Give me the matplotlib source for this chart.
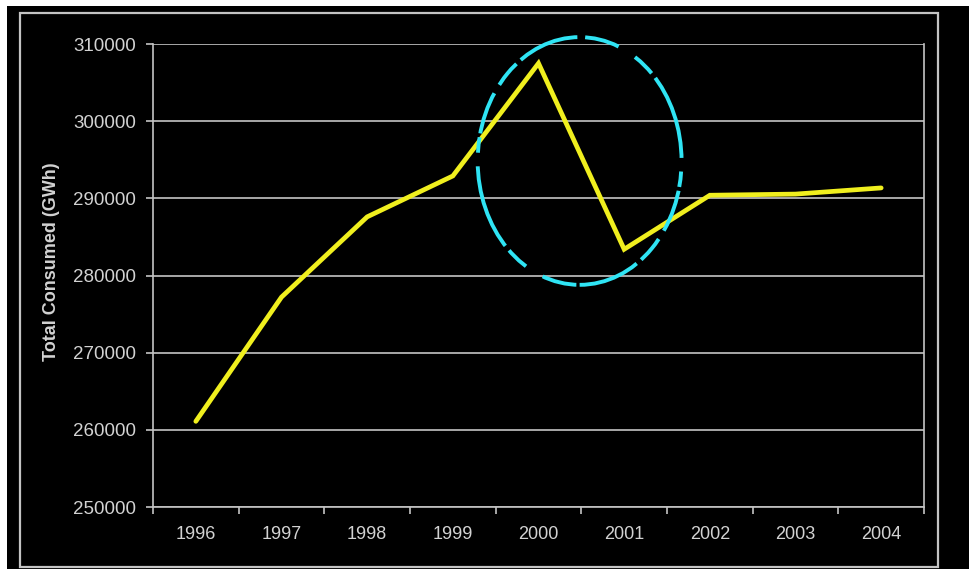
import matplotlib
matplotlib.use("Agg")
import matplotlib.pyplot as plt
from matplotlib.patches import Rectangle, Ellipse

years = ["1996", "1997", "1998", "1999", "2000", "2001", "2002", "2003", "2004"]
consumed_gwh = [261100, 277200, 287600, 292900, 307500, 283400, 290400, 290550, 291350]
y_ticks = [250000, 260000, 270000, 280000, 290000, 300000, 310000]

GRAY = "#c4c4c4"
TEXT = "#d2d2d2"
plt.rcParams["font.family"] = ["Liberation Sans", "DejaVu Sans"]

W, H = 969, 569
fig = plt.figure(figsize=(W / 100, H / 100), dpi=100, facecolor="black")

# white margins along the top and left edges
fig.patches.append(Rectangle((0, 1 - 6 / H), 1, 6 / H, transform=fig.transFigure,
                             facecolor="white", edgecolor="none", zorder=0))
fig.patches.append(Rectangle((0, 0), 7 / W, 1, transform=fig.transFigure,
                             facecolor="white", edgecolor="none", zorder=0))
# outer chart frame
fig.patches.append(Rectangle((20 / W, 2 / H), (938 - 20) / W, (567 - 13) / H,
                             transform=fig.transFigure, facecolor="none",
                             edgecolor=GRAY, linewidth=1.6, zorder=1))

ax = fig.add_axes([153 / W, (H - 507) / H, (924 - 153) / W, (507 - 44) / H])
ax.set_facecolor("black")

x = list(range(len(years)))
ax.plot(x, consumed_gwh, color="#f0ef1e", linewidth=3.4, solid_capstyle="round",
        solid_joinstyle="miter", zorder=3)

# hand-drawn highlight ring around the 2000-2001 swing
ring = Ellipse((4.48, 294840), 2.38, 32100, facecolor="none", edgecolor="#2fe4f4",
               linewidth=2.8,
               linestyle=(0, (16, 1.5, 7, 2.5, 11, 1, 4, 3.5, 22, 1.5, 6, 5, 9, 2)),
               zorder=4, clip_on=False)
ax.add_patch(ring)

ax.set_xlim(-0.5, len(years) - 0.5)
ax.set_ylim(y_ticks[0], y_ticks[-1])
ax.set_yticks(y_ticks)
ax.set_yticklabels([str(v) for v in y_ticks])
ax.yaxis.grid(True, color=GRAY, linewidth=1.2)
ax.set_axisbelow(True)

# category boundaries carry tick marks, category centres carry labels
ax.set_xticks([i - 0.5 for i in range(len(years) + 1)])
ax.set_xticklabels([])
ax.set_xticks(x, minor=True)
ax.set_xticklabels(years, minor=True)
ax.tick_params(axis="x", which="major", direction="out", length=5, width=1.2, color=GRAY)
ax.tick_params(axis="x", which="minor", length=0, pad=14, labelsize=13, labelcolor=TEXT)
ax.tick_params(axis="y", direction="out", length=5, width=1.2, color=GRAY,
               pad=7, labelsize=13.5, labelcolor=TEXT)

for side in ["left", "bottom", "right"]:
    ax.spines[side].set_color(GRAY)
    ax.spines[side].set_linewidth(1.2)
ax.spines["top"].set_visible(False)

fig.text(52 / W, 1 - 262 / H, "Total Consumed (GWh)", rotation=90, ha="center",
         va="center", fontsize=13, fontweight="bold", color=TEXT)

fig.savefig("out.png", dpi=100, facecolor="black")
